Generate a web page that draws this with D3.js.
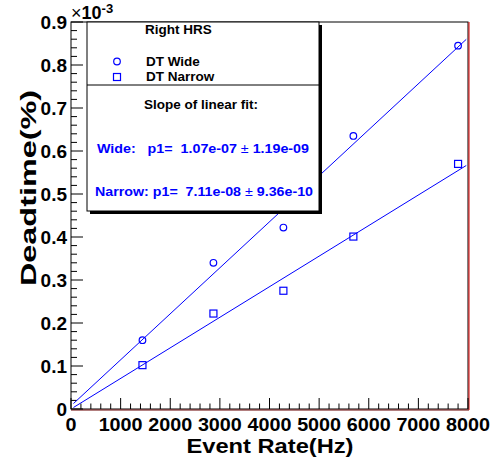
<!DOCTYPE html>
<html>
<head>
<meta charset="utf-8">
<script src="https://cdn.jsdelivr.net/npm/d3@7"></script>
<style>
  body { margin: 0; background: #fff; }
  text { font-family: "Liberation Sans", Arial, sans-serif; font-weight: bold; }
</style>
</head>
<body>
<div class="container"></div>
<script>
// event rate (Hz) and dead time (x1e-3 %)
var rates = [1440, 2870, 4280, 5690, 7800];
var wideDT = [0.160, 0.340, 0.422, 0.635, 0.845];
var narrowDT = [0.102, 0.222, 0.275, 0.401, 0.570];
// linear fits: p0 (x1e-3), p1 (x1e-3 per Hz)
var wideFit = [0.0074, 1.07e-4];
var narrowFit = [0.0, 7.11e-5];
var fitRange = [50, 7965];
var xTicks = [0, 1000, 2000, 3000, 4000, 5000, 6000, 7000, 8000];
var yTicks = [0, 0.1, 0.2, 0.3, 0.4, 0.5, 0.6, 0.7, 0.8, 0.9];
var yTickLabels = ["0", "0.1", "0.2", "0.3", "0.4", "0.5", "0.6", "0.7", "0.8", "0.9"];

var W = 498, H = 465;
var padL = 71, padR = 468, padT = 22, padB = 409;
var blue = "#0000ff";

var svg = d3.select('.container').append('svg')
    .attr('width', W).attr('height', H);

var x = d3.scaleLinear().domain([0, 8000]).range([padL, padR]);
var y = d3.scaleLinear().domain([0, 0.9]).range([padB, padT]);

// frame
svg.append('rect').attr('x', padL).attr('y', padT)
   .attr('width', padR - padL).attr('height', padB - padT)
   .attr('fill', 'none').attr('stroke', '#000').attr('stroke-width', 1);
svg.append('line').attr('x1', padR + 1).attr('x2', padR + 1)
   .attr('y1', padT).attr('y2', padB + 1).attr('stroke', '#d00').attr('stroke-width', 1);
svg.append('line').attr('x1', padL).attr('x2', padR + 1)
   .attr('y1', padB + 1).attr('y2', padB + 1).attr('stroke', '#600').attr('stroke-width', 1);

// minor and major ticks
var xMinor = d3.range(0, 8001, 200);
svg.append('g').selectAll('line').data(xMinor).enter().append('line')
   .attr('x1', function(d){ return x(d); }).attr('x2', function(d){ return x(d); })
   .attr('y1', padB).attr('y2', function(d){ return d % 1000 === 0 ? padB - 11 : padB - 5.5; })
   .attr('stroke', '#000').attr('stroke-width', 1);
var yMinor = d3.range(0, 46).map(function(i){ return i * 0.02; });
svg.append('g').selectAll('line').data(yMinor).enter().append('line')
   .attr('y1', function(d){ return y(d); }).attr('y2', function(d){ return y(d); })
   .attr('x1', padL).attr('x2', function(d, i){ return i % 5 === 0 ? padL + 12 : padL + 6; })
   .attr('stroke', '#000').attr('stroke-width', 1);

// tick labels
svg.append('g').selectAll('text').data(xTicks).enter().append('text')
   .attr('x', function(d){ return x(d); }).attr('y', 431)
   .attr('text-anchor', 'middle').attr('font-size', 19)
   .attr('textLength', function(d){ return d === 0 ? 11 : 44; })
   .attr('lengthAdjust', 'spacingAndGlyphs')
   .text(function(d){ return d; });
svg.append('g').selectAll('text').data(yTicks).enter().append('text')
   .attr('x', 67).attr('y', function(d){ return y(d) + 7; })
   .attr('text-anchor', 'end').attr('font-size', 19)
   .text(function(d, i){ return yTickLabels[i]; });

// exponent
var ex = svg.append('text').attr('x', 71).attr('y', 19).attr('font-size', 18);
ex.append('tspan').attr('font-weight', 'normal').text('\u00d7');
ex.append('tspan').text('10');
ex.append('tspan').attr('font-size', 13).attr('dy', -6).text('-3');

// axis titles
svg.append('text').attr('x', 270).attr('y', 453).attr('text-anchor', 'middle')
   .attr('font-size', 21).attr('textLength', 167).attr('lengthAdjust', 'spacingAndGlyphs')
   .text('Event Rate(Hz)');
svg.append('text').attr('transform', 'translate(36,188) rotate(-90)')
   .attr('text-anchor', 'middle').attr('font-size', 22)
   .attr('textLength', 196).attr('lengthAdjust', 'spacingAndGlyphs')
   .text('Deadtime(%)');

// fit lines
function fitLine(p){
  return fitRange.map(function(r){ return [x(r), y(p[0] + p[1] * r)]; });
}
[wideFit, narrowFit].forEach(function(p){
  svg.append('path').attr('d', d3.line()(fitLine(p)))
     .attr('fill', 'none').attr('stroke', blue).attr('stroke-width', 1);
});

// markers
svg.append('g').selectAll('circle').data(rates).enter().append('circle')
   .attr('cx', function(d){ return x(d); })
   .attr('cy', function(d, i){ return y(wideDT[i]); })
   .attr('r', 3.3).attr('fill', 'none').attr('stroke', blue).attr('stroke-width', 1.2);
svg.append('g').selectAll('rect').data(rates).enter().append('rect')
   .attr('x', function(d){ return x(d) - 3.5; })
   .attr('y', function(d, i){ return y(narrowDT[i]) - 3.5; })
   .attr('width', 7).attr('height', 7)
   .attr('fill', 'none').attr('stroke', blue).attr('stroke-width', 1.2);

// legend box with shadow
var lx0 = 87, lx1 = 319, ly0 = 22, ly1 = 211;
svg.append('rect').attr('x', lx0 + 3).attr('y', ly0 + 3)
   .attr('width', lx1 - lx0).attr('height', ly1 - ly0).attr('fill', '#000');
svg.append('rect').attr('x', lx0).attr('y', ly0)
   .attr('width', lx1 - lx0).attr('height', ly1 - ly0)
   .attr('fill', '#fff').attr('stroke', '#000').attr('stroke-width', 1);
svg.append('line').attr('x1', lx0).attr('x2', lx1).attr('y1', 85).attr('y2', 85)
   .attr('stroke', '#000').attr('stroke-width', 1);

svg.append('text').attr('x', 145).attr('y', 34).attr('font-size', 13.5).text('Right HRS');
svg.append('circle').attr('cx', 117).attr('cy', 61.5).attr('r', 3.3)
   .attr('fill', 'none').attr('stroke', blue).attr('stroke-width', 1.2);
svg.append('text').attr('x', 146).attr('y', 66).attr('font-size', 13.5).text('DT Wide');
svg.append('rect').attr('x', 113.5).attr('y', 73.5).attr('width', 7).attr('height', 7)
   .attr('fill', 'none').attr('stroke', blue).attr('stroke-width', 1.2);
svg.append('text').attr('x', 146).attr('y', 81).attr('font-size', 13.5).text('DT Narrow');
svg.append('text').attr('x', 144).attr('y', 109).attr('font-size', 13.5).text('Slope of linear fit:');

function fitText(yPos, x0, x1, label, val, err){
  var t = svg.append('text').attr('x', x0).attr('y', yPos).attr('font-size', 13.5)
     .attr('fill', blue).attr('xml:space', 'preserve')
     .attr('textLength', x1 - x0).attr('lengthAdjust', 'spacingAndGlyphs');
  t.append('tspan').text(label + val + ' ');
  t.append('tspan').attr('font-weight', 'normal').text('\u00b1');
  t.append('tspan').text(' ' + err);
}
fitText(153, 97, 309, 'Wide:   p1=  ', '1.07e-07', '1.19e-09');
fitText(196, 95, 313, 'Narrow: p1=  ', '7.11e-08', '9.36e-10');
</script>
</body>
</html>
